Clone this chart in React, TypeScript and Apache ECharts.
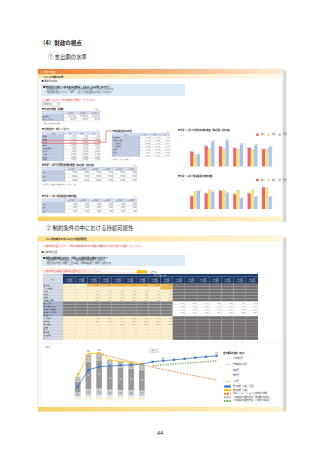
import React, { useEffect, useRef } from "react";
import * as echarts from "echarts";

const FONT = "'Noto Sans CJK JP', 'Noto Sans', sans-serif";

// ---------- Panel 1 data ----------
const spendYears = ["平成23年度", "平成24年度", "平成25年度", "平成26年度", "平成27年度", "平成28年度"];
const compareNames = ["本市", "類似", "県内"];
const perCapitaCity = [12900, 17800, 17500, 16100, 16400, 15200];
const perCapitaSimilar = [10000, 15200, 15200, 14700, 14700, 14400];
const perCapitaPref = [10600, 22100, 23000, 19500, 18700, 17200];
const facilityCity = [5900, 7200, 8400, 6800, 7200, 10000];
const facilitySimilar = [7900, 8700, 8400, 8500, 8700, 9600];
const facilityPref = [8400, 8100, 7500, 4900, 5700, 5700];

const t1Header = ["", "平成26年度", "平成27年度", "平成28年度"];
const t1Rows = [
  ["歳出総額", "48,215,330", "49,120,874", "50,336,102"],
  ["市民一人当たり", "356,224", "364,018", "375,946"],
];
const t2Header = ["目的別", "本市", "類似", "県内"];
const t2Rows = [
  ["議会費", "1,024", "1,186", "1,203"],
  ["総務費", "45,312", "52,804", "48,775"],
  ["民生費", "152,338", "148,920", "161,402"],
  ["衛生費", "38,451", "35,117", "40,268"],
  ["農林水産業費", "7,845", "12,330", "9,874"],
  ["商工費", "9,620", "11,204", "10,556"],
  ["土木費", "41,207", "46,883", "43,190"],
  ["消防費", "12,485", "13,902", "12,771"],
  ["教育費", "48,330", "51,266", "47,905"],
];
const t3Header = ["項目", "本市", "類似", "県内"];
const t3Rows = [
  ["維持補修費", "2,315", "2,870", "2,644"],
  ["普通建設事業費", "41,207", "46,883", "43,190"],
  ["うち新規整備", "18,552", "21,040", "19,876"],
  ["うち更新整備", "22,655", "25,843", "23,314"],
  ["公債費", "33,104", "35,520", "34,212"],
  ["物件費", "40,886", "42,105", "41,730"],
  ["合計", "140,719", "174,261", "164,966"],
];

// ---------- Panel 2 data (億円) ----------
const fiscalYears = [
  "平成22年度\n(2010年度)", "平成23年度\n(2011年度)", "平成24年度\n(2012年度)", "平成25年度\n(2013年度)",
  "平成26年度\n(2014年度)", "平成27年度\n(2015年度)", "平成28年度\n(2016年度)", "平成29年度\n(2017年度)",
  "平成30年度\n(2018年度)", "平成31年度\n(2019年度)", "平成32年度\n(2020年度)", "平成33年度\n(2021年度)",
  "平成34年度\n(2022年度)", "平成35年度\n(2023年度)", "平成36年度\n(2024年度)", "平成37年度\n(2025年度)",
];
const staffCost = [null, null, 10, 12, 12, 12, 12, 12, 12, null, null, null, null, null, null, null];
const goodsCost = [null, null, 28, 40, 40, 38, 38, 36, 35, null, null, null, null, null, null, null];
const welfareCost = [null, null, 55, 88, 95, 82, 78, 76, 72, null, null, null, null, null, null, null];
const constructionCost = [null, null, 160, 400, 410, 340, 326, 318, 298, null, null, null, null, null, null, null];
const otherCost = [null, null, 68, 100, 100, 88, 80, 80, 80, null, null, null, null, null, null, null];
const revenueTotal = [null, null, 175, 416, 463, 473, 482, 487, 501, 532, 548, 561, 575, 591, 604, 619];
const expenditureTotal = [null, null, 325, 648, 660, 562, 536, 524, 500, null, null, null, null, null, null, null];
const simulatedBudget = [null, null, null, null, 655, 612, 570, 533, 495, 455, 424, 393, 362, 333, 304, 277];
const renewalCurrent = [null, null, null, null, null, null, null, null, null, 472, 483, 494, 506, 517, 528, 540];
const renewalExtended = [null, null, null, null, null, null, null, null, null, 480, 492, 505, 516, 527, 539, 550];
const expenseNames = ["その他経費", "普通建設事業費", "扶助費", "物件費", "人件費"];
const lineNames = [
  "歳入総額（実績・計画）",
  "歳出総額（実績）",
  "財政シミュレーション上の歳出可能額",
  "公共施設等の更新費用（現状維持の場合）",
  "公共施設等の更新費用（長寿命化の場合）",
];

const fmt = (v: number) => Number(v).toLocaleString("en-US");

const T = (x: number, y: number, text: string, size: number, fill = "#333", extra: any = {}) => ({
  type: "text", x, y, z: 10, silent: true,
  style: { text, fontSize: size, fill, fontFamily: FONT, verticalAlign: "middle", textVerticalAlign: "middle", ...extra },
});
const R = (x: number, y: number, w: number, h: number, fill: any, stroke?: string, lw = 0, z = 1) => ({
  type: "rect", z, silent: true, shape: { x, y, width: w, height: h },
  style: { fill, stroke: stroke || null, lineWidth: lw },
});
const grad = (stops: string[]) =>
  new echarts.graphic.LinearGradient(0, 0, 1, 0, stops.map((c, i) => ({ offset: i / (stops.length - 1), color: c })));

type Cell = { fill: string; text?: string; color?: string; align?: string };
function table(x0: number, y0: number, colW: number[], rowH: number, rows: Cell[][], fs = 1.6, stroke = "#A9B1C2") {
  const out: any[] = [];
  rows.forEach((row, r) => {
    let x = x0;
    row.forEach((cell, c) => {
      const w = colW[c];
      const y = y0 + r * rowH;
      out.push(R(x, y, w, rowH, cell.fill, stroke, 0.2, 2));
      if (cell.text) {
        const al = cell.align || (c === 0 ? "left" : "right");
        const tx = al === "left" ? x + 0.5 : al === "center" ? x + w / 2 : x + w - 0.5;
        out.push(T(tx, y + rowH / 2, cell.text, fs, cell.color || "#333", { align: al, textAlign: al }));
      }
      x += w;
    });
  });
  return out;
}

const HDR = "#D9E1F2";
const LBL = "#C3CDE2";

function simpleTable(x: number, y: number, colW: number[], rowH: number, header: string[], rows: string[][], fs = 1.5) {
  const cells: Cell[][] = [header.map((h) => ({ fill: HDR, text: h, align: "center" }))];
  rows.forEach((r) => cells.push(r.map((t, c) => ({ fill: c === 0 ? LBL : "#FFFFFF", text: t }))));
  return table(x, y, colW, rowH, cells, fs);
}

function buildGraphics() {
  const g: any[] = [];
  // headings
  g.push(T(40, 43, "（4）財政の視点", 5.5, "#222", { fontWeight: "bold" }));
  g.push(T(48, 57, "① 支出額の水準", 5.4, "#222"));
  g.push(T(46, 228, "② 制約条件の中における持続可能性", 5.4, "#222"));
  g.push(T(160, 433, "44", 5.5, "#333", { align: "center", textAlign: "center" }));

  // ===== panel 1 =====
  g.push(R(283, 70.5, 3.5, 151.5, "#D9D9D9"));
  g.push(R(38, 69, 245, 152, "#FFFFFF", "#D0D0D0", 0.5));
  g.push(R(38, 69, 245, 5, grad(["#E67E32", "#F5B27A", "#FDEBD8"])));
  g.push(T(40.5, 71.6, "4. 財政の視点", 2.5, "#FFFFFF"));
  g.push(R(38, 74, 245, 4.5, grad(["#FCE3A6", "#FFF9EA"])));
  g.push(T(44, 76.3, "4-1. 支出額の水準", 2.4, "#333", { fontWeight: "bold" }));
  g.push(T(41.5, 81, "● 機能別の視点", 2.2, "#333"));
  g.push(R(41, 84, 144, 12, "#DDEBF7"));
  g.push(T(43, 86.5, "■ 他市町と比較して本市の支出額は、どのような水準にあるか？", 2.3, "#222", { fontWeight: "bold" }));
  g.push(T(45, 89.6, "・目的別支出について、類似団体・県内平均と比較してどのような状況か", 2.1, "#333"));
  g.push(T(45, 92.6, "・施設関連支出について、市民一人当たりの支出額はどのような水準か", 2.1, "#333"));
  g.push(T(42, 99.5, "※比較したいデータの年度を選択してください。", 2.5, "#E53030"));
  g.push(R(42, 102, 18, 4.2, "#FFFFFF", "#8C8C8C", 0.3, 3));
  g.push(T(43, 104.1, "平成28年度", 1.9, "#333"));
  g.push({ type: "polygon", z: 5, silent: true, shape: { points: [[57.2, 103.6], [58.8, 103.6], [58, 104.7]] }, style: { fill: "#555" } });

  // T1
  g.push(T(42, 109.3, "■ 市の歳出総額（決算額）", 1.9, "#222", { fontWeight: "bold" }));
  g.push(T(100, 109.3, "（千円）", 1.6, "#333", { align: "right", textAlign: "right" }));
  g.push(...simpleTable(42, 111, [22, 12, 12, 12], 3.3, t1Header, t1Rows, 1.5));
  g.push(T(42, 122.8, "※出典：地方財政状況調査", 1.5, "#555"));
  // T2
  g.push(T(42, 129.4, "■ 目的別歳出（市民一人当たり）", 1.9, "#222", { fontWeight: "bold" }));
  g.push(T(100, 129.4, "（円）", 1.6, "#333", { align: "right", textAlign: "right" }));
  g.push(...simpleTable(42, 131.5, [22, 12, 12, 12], 2.95, t2Header, t2Rows, 1.45));
  g.push(R(42, 131.5 + 3 * 2.95, 58, 2.95, "rgba(0,0,0,0)", "#E53935", 0.55, 6));
  g.push({ type: "polyline", z: 6, silent: true, shape: { points: [[100, 142.3], [106, 142.3], [106, 131], [112, 131]] }, style: { stroke: "#E53935", lineWidth: 0.55, fill: null } });
  g.push(T(42, 163.2, "※類似団体：人口規模・産業構造が類似する団体", 1.5, "#555"));
  // T3
  g.push(T(112.5, 131, "■ 施設関連支出の内訳", 1.9, "#222", { fontWeight: "bold" }));
  g.push(T(170, 131, "（円）", 1.6, "#333", { align: "right", textAlign: "right" }));
  g.push(...simpleTable(112, 133, [28, 10, 10, 10], 2.95, t3Header, t3Rows, 1.4));
  g.push(T(112, 158.7, "※市民一人当たりの金額", 1.5, "#555"));
  // T4
  g.push(T(42, 165.2, "■ 市民一人当たり目的別支出額の推移（類似団体・県内比較）", 1.9, "#222", { fontWeight: "bold" }));
  g.push(T(137, 165.2, "（円）", 1.6, "#333", { align: "right", textAlign: "right" }));
  {
    const cells: Cell[][] = [[{ fill: HDR, text: "" }, ...spendYears.map((s) => ({ fill: HDR, text: s, align: "center" }))]];
    [perCapitaCity, perCapitaSimilar, perCapitaPref].forEach((arr, i) =>
      cells.push([{ fill: LBL, text: compareNames[i] }, ...arr.map((v) => ({ fill: "#FFFFFF", text: fmt(v) }))]));
    g.push(...table(42, 167, [23, 12, 12, 12, 12, 12, 12], 3.6, cells, 1.5));
  }
  g.push(T(42, 184, "※各年度の決算額を住民基本台帳人口で除して算出", 1.5, "#555"));
  // T5
  g.push(T(42, 196.5, "■ 市民一人当たり施設関連支出額の推移", 1.9, "#222", { fontWeight: "bold" }));
  g.push(T(137, 196.5, "（円）", 1.6, "#333", { align: "right", textAlign: "right" }));
  {
    const cells: Cell[][] = [[{ fill: HDR, text: "" }, ...spendYears.map((s) => ({ fill: HDR, text: s, align: "center" }))]];
    [facilityCity, facilitySimilar, facilityPref].forEach((arr, i) =>
      cells.push([{ fill: LBL, text: compareNames[i] }, ...arr.map((v) => ({ fill: "#FFFFFF", text: fmt(v) }))]));
    g.push(...table(42, 198.5, [23, 12, 12, 12, 12, 12, 12], 3.6, cells, 1.5));
  }
  // chart titles
  g.push(T(178, 130.5, "■ 市民一人当たり目的別支出額の推移（類似団体・県内比較）", 1.9, "#222", { fontWeight: "bold" }));
  g.push(T(180, 134.8, "（円）", 1.6, "#444"));
  g.push(T(178, 176, "■ 市民一人当たり施設関連支出額の推移", 1.9, "#222", { fontWeight: "bold" }));
  g.push(T(180, 180.2, "（円）", 1.6, "#444"));
  g.push(R(38, 216.5, 245, 4.5, grad(["#F7D067", "#FBE39C", "#FFF3CC"])));

  // ===== panel 2 =====
  g.push(R(283, 237.5, 3.5, 174, "#D9D9D9"));
  g.push(R(38, 236, 245, 175, "#FFFFFF", "#E6DAB5", 0.6));
  g.push(R(38, 236.5, 245, 5, grad(["#FBDD88", "#FFF7DC"])));
  g.push(T(46, 239, "4-2. 制約条件の中における持続可能性", 2.4, "#333", { fontWeight: "bold" }));
  g.push(T(42, 246, "※長期財政計画を入力し、財政の制約条件の中で施設の更新等が持続可能かを確認してください。", 2.3, "#E53030"));
  g.push(T(41.5, 251.5, "● 長期財政計画", 2.2, "#333"));
  g.push(R(41, 255, 144, 11, "#DDEBF7"));
  g.push(T(43, 257.4, "■ 財政の制約条件の中で、今後も公共施設等を維持できるか？", 2.3, "#222", { fontWeight: "bold" }));
  g.push(T(45, 260.3, "・将来の歳入・歳出の見通しと、施設の更新費用の推計を比較する", 2.0, "#333"));
  g.push(T(45, 263.1, "・更新費用が歳出可能額を上回る場合、総量の縮減や長寿命化を検討する", 2.0, "#333"));
  g.push(R(41.5, 268.8, 98, 3.6, "rgba(0,0,0,0)", "#F4B183", 0.3, 3));
  g.push(T(42.5, 270.6, "※平成29年度以降の長期財政計画の値を入力してください。", 2.2, "#E53030"));
  g.push(R(137, 270.5, 10, 2.6, "#FFC000", "#C9A000", 0.2, 3));
  g.push(T(148, 271.8, "：入力セル", 1.8, "#333"));

  // big table
  const tx0 = 43, labW = 20, colW = 195 / 16, rowH = 2.95, top = 274, hdrY = 276.8, dataY = 283.8;
  g.push(R(tx0, top, labW, dataY - top, "#D6DCE5", "#8E9AB5", 0.2, 2));
  g.push(T(tx0 + labW / 2, (top + dataY) / 2, "項目", 1.6, "#333", { align: "center", textAlign: "center" }));
  g.push(R(tx0 + labW, top, 195, hdrY - top, "#1F3864", "#5A6E9A", 0.2, 2));
  g.push(T(tx0 + labW + 97.5, top + 1.4, "年度（実績・計画）", 1.5, "#FFFFFF", { align: "center", textAlign: "center" }));
  fiscalYears.forEach((fy, c) => {
    const x = tx0 + labW + c * colW;
    g.push(R(x, hdrY, colW, dataY - hdrY, "#1F3864", "#5A6E9A", 0.2, 2));
    g.push({ type: "text", x: x + colW / 2, y: hdrY + 3.5, z: 10, silent: true,
      style: { text: fy, fontSize: 1.35, lineHeight: 1.9, fill: "#FFFFFF", fontFamily: FONT, align: "center", textAlign: "center", verticalAlign: "middle", textVerticalAlign: "middle" } });
  });
  const bigRows: { label: string; values: (number | null)[] | null; zone: string }[] = [
    { label: "歳入総額", values: revenueTotal, zone: "a" },
    { label: "うち一般財源", values: null, zone: "a" },
    { label: "人件費", values: staffCost, zone: "a" },
    { label: "物件費", values: goodsCost, zone: "a" },
    { label: "扶助費", values: welfareCost, zone: "a" },
    { label: "普通建設事業費", values: constructionCost, zone: "a" },
    { label: "歳入（計画）", values: revenueTotal, zone: "p" },
    { label: "歳出可能額（計画）", values: simulatedBudget, zone: "p" },
    { label: "更新費用（現状維持）", values: renewalCurrent, zone: "p" },
    { label: "更新費用（長寿命化）", values: renewalExtended, zone: "p" },
    { label: "歳入歳出差引", values: null, zone: "p" },
    { label: "その他経費", values: otherCost, zone: "a" },
    { label: "歳出総額", values: expenditureTotal, zone: "a" },
    { label: "歳出可能額", values: simulatedBudget, zone: "a" },
    { label: "公債費", values: null, zone: "a" },
    { label: "積立金", values: null, zone: "a" },
    { label: "基金残高", values: null, zone: "a" },
    { label: "地方債残高", values: null, zone: "a" },
    { label: "合計", values: null, zone: "a" },
  ];
  bigRows.forEach((row, r) => {
    const y = dataY + r * rowH;
    const planRow = row.zone === "p";
    g.push(R(tx0, y, labW, rowH, planRow ? "#A9B4CC" : "#D6DCE5", "#8E9AB5", 0.2, 2));
    g.push(T(tx0 + 0.5, y + rowH / 2, row.label, 1.45, "#222"));
    for (let c = 0; c < 16; c++) {
      const x = tx0 + labW + c * colW;
      let fill = "#FFF2CC";
      if (planRow) fill = c <= 8 ? "#7F7F7F" : "#FFFFFF";
      else if (c >= 9) fill = "#767171";
      else if (r === 0 && c >= 2) fill = "#F6B94A";
      else if (r === 1 && c === 8) fill = "#F6B94A";
      g.push(R(x, y, colW, rowH, fill, "#B7B7B7", 0.15, 2));
      const v = row.values ? row.values[c] : null;
      const show = v != null && (planRow ? c >= 9 : c <= 8);
      if (show) g.push(T(x + colW - 0.5, y + rowH / 2, (v as number).toFixed(1), 1.4, "#333", { align: "right", textAlign: "right" }));
    }
  });

  // combo chart frame & texts
  g.push(R(41, 343, 240, 64, "rgba(0,0,0,0)", "#E2E2E2", 0.4, 1));
  g.push(T(44, 347.3, "（億円）", 1.8, "#444"));
  g.push(R(150, 349, 8, 3.2, "#FFFFFF", "#666", 0.3, 6));
  g.push(T(154, 350.6, "推計", 1.7, "#333", { align: "center", textAlign: "center" }));
  g.push(T(223, 353.7, "歳出額等の推移（億円）", 2.1, "#222", { fontWeight: "bold" }));
  g.push(R(38, 407, 245, 4.5, grad(["#F7D067", "#FBE39C", "#FFF3CC"])));
  return g;
}

const labelFmt = (p: any) => (p.value == null ? "" : fmt(p.value));

function buildOption() {
  const barLbl = (dx: number) => ({ show: true, position: "top", fontSize: 1.3, distance: 0.4, offset: [dx, 0], color: "#444", formatter: labelFmt });
  const colors = ["#E8686E", "#FBE27A", "#A8C4EC"];
  const offsets = [-1, 0, 1];
  const perCapita = [perCapitaCity, perCapitaSimilar, perCapitaPref];
  const facility = [facilityCity, facilitySimilar, facilityPref];
  const smallAxisLabel = { fontSize: 1.9, color: "#555", margin: 1.5 };
  const expenseData = [otherCost, constructionCost, welfareCost, goodsCost, staffCost];
  const expenseColors = ["#B5B5B5", "#999999", "#C9C9C9", "#EBEBEB", "#FFC000"];
  const stackOrder = [4, 3, 2, 1, 0]; // bottom to top

  const series: any[] = [];
  perCapita.forEach((d, i) => series.push({ type: "bar", name: compareNames[i], xAxisIndex: 0, yAxisIndex: 0, data: d, barWidth: 3.3, barGap: "0%", itemStyle: { color: colors[i] }, label: barLbl(offsets[i]) }));
  facility.forEach((d, i) => series.push({ type: "bar", name: compareNames[i], xAxisIndex: 1, yAxisIndex: 1, data: d, barWidth: 3.3, barGap: "0%", itemStyle: { color: colors[i] }, label: barLbl(offsets[i]) }));
  stackOrder.forEach((k) =>
    series.push({
      type: "bar", name: expenseNames[k], xAxisIndex: 2, yAxisIndex: 2, stack: "exp", data: expenseData[k], barWidth: 6,
      itemStyle: { color: expenseColors[k], borderColor: "#FFFFFF", borderWidth: 0.2 },
      label: { show: k === 0 || k === 1 || k === 2, position: "inside", fontSize: 1.5, color: k === 2 ? "#444" : "#FFFFFF", formatter: labelFmt },
    }));
  series.push({ type: "line", name: lineNames[0], xAxisIndex: 2, yAxisIndex: 2, data: revenueTotal, z: 6, symbol: "rect", symbolSize: 2.2, lineStyle: { color: "#4472C4", width: 0.8 }, itemStyle: { color: "#4472C4" },
    label: { show: true, position: "top", fontSize: 1.6, distance: 0.6, color: "#333", formatter: (p: any) => (p.dataIndex === 10 || p.dataIndex === 15 ? fmt(p.value) : "") } });
  series.push({ type: "line", name: lineNames[1], xAxisIndex: 2, yAxisIndex: 2, data: expenditureTotal, z: 6, symbol: "circle", symbolSize: 1.6, lineStyle: { color: "#FFC000", width: 0.8 }, itemStyle: { color: "#FFC000" },
    label: { show: true, position: "top", fontSize: 1.6, distance: 0.6, color: "#333", formatter: (p: any) => (p.dataIndex >= 2 && p.dataIndex <= 4 ? fmt(p.value) : "") } });
  series.push({ type: "line", name: lineNames[2], xAxisIndex: 2, yAxisIndex: 2, data: simulatedBudget, z: 5, symbol: "none", lineStyle: { color: "#ED7D31", width: 0.8, type: [2, 1.2] }, itemStyle: { color: "#ED7D31" } });
  series.push({ type: "line", name: lineNames[3], xAxisIndex: 2, yAxisIndex: 2, data: renewalCurrent, z: 5, symbol: "none", lineStyle: { color: "#A5A5A5", width: 0.7, type: [1.5, 1] }, itemStyle: { color: "#A5A5A5" } });
  series.push({ type: "line", name: lineNames[4], xAxisIndex: 2, yAxisIndex: 2, data: renewalExtended, z: 5, symbol: "none", lineStyle: { color: "#70AD47", width: 0.7, type: [1.5, 1] }, itemStyle: { color: "#70AD47" } });

  const catAxis = (gridIndex: number, data: string[]) => ({
    gridIndex, type: "category", data,
    axisLine: { lineStyle: { color: "#BFBFBF", width: 0.4 } }, axisTick: { show: false },
    axisLabel: { ...smallAxisLabel, interval: 0 },
  });

  return {
    animation: false,
    backgroundColor: "#FFFFFF",
    textStyle: { fontFamily: FONT },
    grid: [
      { left: 188, top: 138, width: 86, height: 28.5 },
      { left: 188, top: 183, width: 86, height: 26 },
      { left: 51, top: 350, width: 171, height: 49.3 },
      { left: 51, top: 350, width: 96.25, height: 49.3 },
    ],
    xAxis: [
      catAxis(0, spendYears),
      catAxis(1, spendYears),
      { ...catAxis(2, fiscalYears), axisLabel: { fontSize: 1.6, lineHeight: 2.1, color: "#555", margin: 1.3, interval: 0 } },
      { gridIndex: 3, type: "category", data: fiscalYears.slice(0, 9), show: false },
    ],
    yAxis: [
      { gridIndex: 0, type: "value", min: 0, max: 25000, interval: 5000, axisLabel: { ...smallAxisLabel, formatter: (v: number) => fmt(v) }, splitLine: { lineStyle: { color: "#E3E3E3", width: 0.3 } } },
      { gridIndex: 1, type: "value", min: 0, max: 12000, interval: 2000, axisLabel: { ...smallAxisLabel, formatter: (v: number) => fmt(v) }, splitLine: { lineStyle: { color: "#E3E3E3", width: 0.3 } } },
      { gridIndex: 2, type: "value", min: 0, max: 700, interval: 100, axisLabel: { show: false }, splitLine: { show: false }, axisLine: { show: false } },
      { gridIndex: 3, type: "value", min: 0, max: 700, interval: 100, axisLabel: { ...smallAxisLabel }, splitLine: { lineStyle: { color: "#D9D9D9", width: 0.3 } }, axisLine: { show: false } },
      { gridIndex: 2, type: "value", position: "left", offset: -96.25, min: 0, max: 20, interval: 2,
        axisLine: { show: true, lineStyle: { color: "#7F7F7F", width: 0.4 } }, axisTick: { show: true, length: 0.6, lineStyle: { width: 0.3 } },
        axisLabel: { show: true, inside: true, fontSize: 1.5, color: "#555", margin: 1 }, splitLine: { show: false } },
    ],
    legend: [
      { left: 256, top: 133.6, padding: 0, itemWidth: 2.8, itemHeight: 2.2, itemGap: 2.5, icon: "rect", data: compareNames, textStyle: { fontSize: 1.9, color: "#444", padding: [0, 0, 0, -3] } },
      { left: 256, top: 178.9, padding: 0, itemWidth: 2.8, itemHeight: 2.2, itemGap: 2.5, icon: "rect", data: compareNames, textStyle: { fontSize: 1.9, color: "#444", padding: [0, 0, 0, -3] } },
      { orient: "vertical", left: 223, top: 356, padding: 0, itemWidth: 7, itemHeight: 2.3, itemGap: 1.6, data: [...expenseNames, ...lineNames], textStyle: { fontSize: 2.0, color: "#333", padding: [0, 0, 0, -3] } },
    ],
    series,
    graphic: { elements: buildGraphics() },
  };
}

export default function App() {
  const ref = useRef<HTMLDivElement>(null);
  useEffect(() => {
    if (!ref.current) return;
    const chart = echarts.init(ref.current, undefined, { renderer: "svg" });
    chart.setOption(buildOption() as any);
    return () => chart.dispose();
  }, []);
  return <div ref={ref} style={{ position: "fixed", left: 0, top: 0, width: 320, height: 453, background: "#fff" }} />;
}
